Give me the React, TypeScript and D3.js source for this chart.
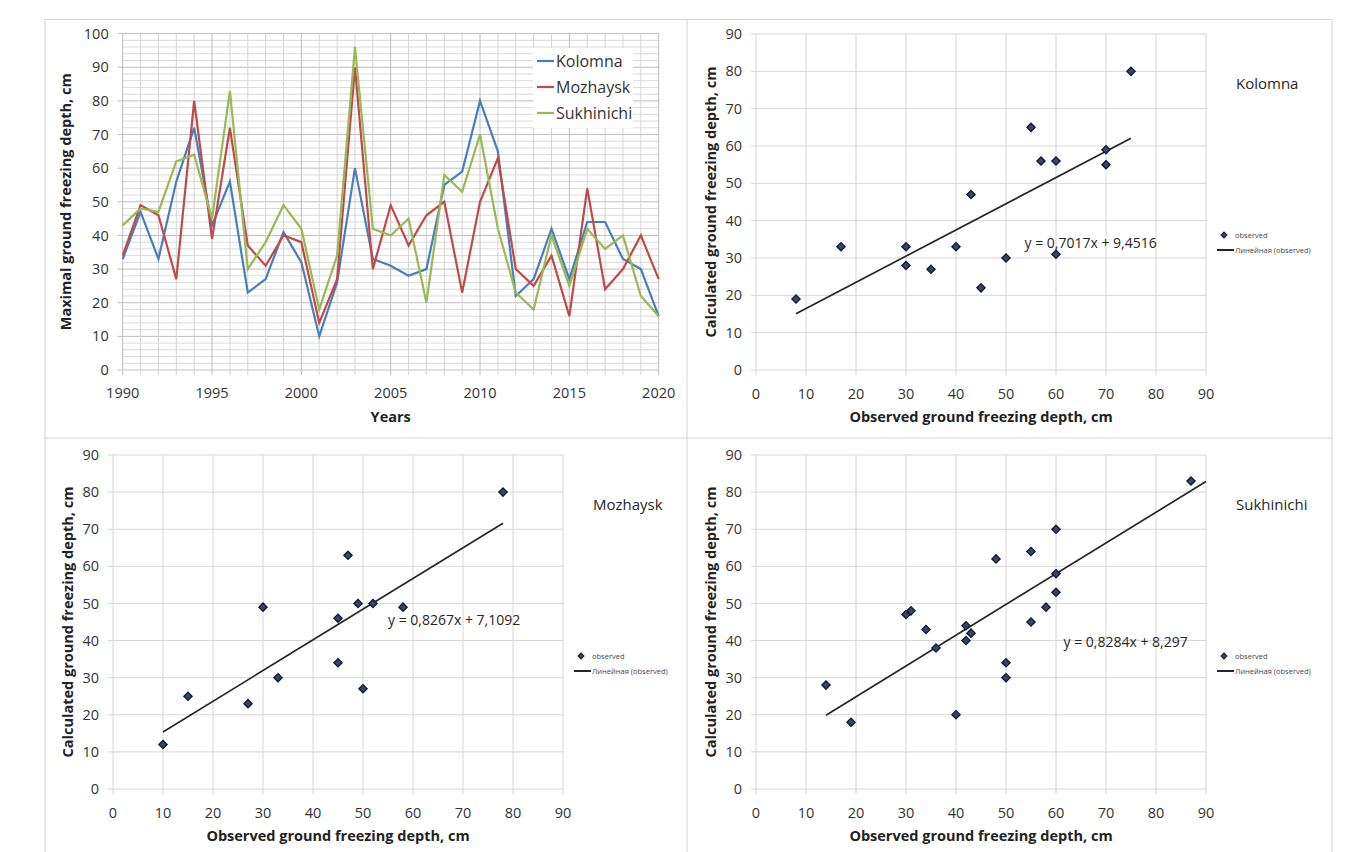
import * as d3 from "d3";

// Maximal ground freezing depth by year, cm
const years = [
  1990, 1991, 1992, 1993, 1994, 1995, 1996, 1997, 1998, 1999, 2000, 2001, 2002, 2003, 2004, 2005,
  2006, 2007, 2008, 2009, 2010, 2011, 2012, 2013, 2014, 2015, 2016, 2017, 2018, 2019, 2020,
];
const kolomna = [33, 47, 33, 56, 72, 43, 56, 23, 27, 41, 32, 10, 26, 60, 33, 31, 28, 30, 55, 59, 80, 65, 22, 27, 42, 27, 44, 44, 33, 30, 16];
const mozhaysk = [34, 49, 46, 27, 80, 39, 72, 37, 31, 40, 38, 14, 27, 90, 30, 49, 37, 46, 50, 23, 50, 63, 30, 25, 34, 16, 54, 24, 30, 40, 27];
const sukhinichi = [43, 48, 47, 62, 64, 45, 83, 30, 38, 49, 42, 18, 34, 96, 42, 40, 45, 20, 58, 53, 70, 42, 23, 18, 40, 25, 42, 36, 40, 22, 16];

const seriesNames = ["Kolomna", "Mozhaysk", "Sukhinichi"];
const seriesColors = ["#4a7ebb", "#be4b48", "#98b954"];

const yearTicks = [1990, 1995, 2000, 2005, 2010, 2015, 2020];
const depthTicks = [0, 10, 20, 30, 40, 50, 60, 70, 80, 90, 100];
const scatterTicks = [0, 10, 20, 30, 40, 50, 60, 70, 80, 90];

// observed vs calculated, cm
const kolomnaObs = [8, 17, 30, 30, 35, 40, 43, 45, 50, 55, 57, 60, 60, 70, 70, 75];
const kolomnaCalc = [19, 33, 33, 28, 27, 33, 47, 22, 30, 65, 56, 56, 31, 59, 55, 80];
const mozhayskObs = [10, 15, 27, 30, 33, 45, 45, 47, 49, 50, 52, 58, 78];
const mozhayskCalc = [12, 25, 23, 49, 30, 46, 34, 63, 50, 27, 50, 49, 80];
const sukhinichiObs = [14, 19, 30, 31, 34, 36, 40, 42, 42, 43, 48, 50, 50, 55, 55, 58, 60, 60, 60, 87];
const sukhinichiCalc = [28, 18, 47, 48, 43, 38, 20, 44, 40, 42, 62, 34, 30, 64, 45, 49, 70, 58, 53, 83];

// linear trendlines: [slope, intercept], [from x, to x]
const kolomnaFit = [0.7017, 9.4516];
const kolomnaFitRange = [8, 75];
const mozhayskFit = [0.8267, 7.1092];
const mozhayskFitRange = [10, 78];
const sukhinichiFit = [0.8284, 8.297];
const sukhinichiFitRange = [14, 90];

const FONT = "'Open Sans', 'DejaVu Sans', sans-serif";
const TXT = "#333";

function LineChart() {
  const left = 122.7, right = 658.7, top = 33.6, bottom = 370;
  const x = d3.scaleLinear().domain([1990, 2020]).range([left, right]);
  const y = d3.scaleLinear().domain([0, 100]).range([bottom, top]);
  const series = [kolomna, mozhaysk, sukhinichi];
  const line = d3
    .line<number>()
    .x((_, i) => x(years[i]))
    .y((d) => y(d));

  return (
    <g>
      {/* minor + major grid */}
      {d3.range(0, 101, 2).map((v) => (
        <line key={"h" + v} x1={left} x2={right} y1={y(v)} y2={y(v)}
          stroke={v % 10 === 0 ? "#bdbdbd" : "#dadada"} strokeWidth={1} />
      ))}
      {years.map((yr) => (
        <line key={"v" + yr} x1={x(yr)} x2={x(yr)} y1={top} y2={bottom + 5}
          stroke={yr % 5 === 0 ? "#bdbdbd" : "#d4d4d4"} strokeWidth={1} />
      ))}
      {depthTicks.map((v) => (
        <g key={"yt" + v}>
          <line x1={left - 5} x2={left} y1={y(v)} y2={y(v)} stroke="#bdbdbd" />
          <text x={left - 14} y={y(v)} dy="0.35em" textAnchor="end" fontSize={14.5} fill={TXT}>{v}</text>
        </g>
      ))}
      {yearTicks.map((yr) => (
        <text key={"xt" + yr} x={x(yr)} y={398} textAnchor="middle" fontSize={14.5} fill={TXT}>{yr}</text>
      ))}
      {series.map((s, i) => (
        <path key={seriesNames[i]} d={line(s) || ""} fill="none" stroke={seriesColors[i]}
          strokeWidth={2.2} strokeLinejoin="miter" />
      ))}
      {/* legend */}
      <rect x={533} y={48} width={100} height={80} fill="#fff" />
      {seriesNames.map((n, i) => (
        <g key={"lg" + n}>
          <line x1={537} x2={554} y1={61 + i * 26} y2={61 + i * 26} stroke={seriesColors[i]} strokeWidth={2.2} />
          <text x={556} y={61 + i * 26} dy="0.35em" fontSize={16} fill={TXT}>{n}</text>
        </g>
      ))}
      <text x={(left + right) / 2} y={422} textAnchor="middle" fontSize={14.5} fontWeight="bold" fill="#222">Years</text>
      <text transform={`translate(66,${(top + bottom) / 2}) rotate(-90)`} textAnchor="middle" dy="0.35em"
        fontSize={14.5} fontWeight="bold" fill="#222">Maximal ground freezing depth, cm</text>
    </g>
  );
}

type ScatterProps = {
  left: number; right: number; top: number; bottom: number;
  obs: number[]; calc: number[]; fit: number[]; fitRange: number[];
  name: string; eqPos: number[];
};

function Scatter({ left, right, top, bottom, obs, calc, fit, fitRange, name, eqPos }: ScatterProps) {
  const x = d3.scaleLinear().domain([0, 90]).range([left, right]);
  const y = d3.scaleLinear().domain([0, 90]).range([bottom, top]);
  const diamond = d3.symbol().type(d3.symbolSquare).size(34)() || "";
  const small = d3.symbol().type(d3.symbolSquare).size(18)() || "";
  const trend = d3
    .line<number>()
    .x((d) => x(d))
    .y((d) => y(fit[0] * d + fit[1]));
  const fmt = (v: number) => String(v).replace(".", ",");
  const eq = `y = ${fmt(fit[0])}x + ${fmt(fit[1])}`;

  return (
    <g>
      {scatterTicks.map((v) => (
        <g key={"g" + v}>
          <line x1={left - 5} x2={right} y1={y(v)} y2={y(v)} stroke="#d6d6d6" />
          <line x1={x(v)} x2={x(v)} y1={top} y2={bottom + 5} stroke="#d6d6d6" />
          <text x={left - 14} y={y(v)} dy="0.35em" textAnchor="end" fontSize={14.5} fill={TXT}>{v}</text>
          <text x={x(v)} y={bottom + 29} textAnchor="middle" fontSize={14.5} fill={TXT}>{v}</text>
        </g>
      ))}
      <path d={trend(fitRange) || ""} fill="none" stroke="#262626" strokeWidth={1.7} />
      {obs.map((o, i) => (
        <path key={"p" + i} d={diamond} transform={`translate(${x(o)},${y(calc[i])}) rotate(45)`}
          fill="#34466b" stroke="#0f1a2e" strokeWidth={1.3} />
      ))}
      <text x={x(eqPos[0])} y={y(eqPos[1])} dy="0.35em" fontSize={14} fill="#262626">{eq}</text>
      <text x={right + 30} y={top + 50} dy="0.35em" fontSize={15} fill="#262626">{name}</text>
      {/* legend */}
      <path d={small} transform={`translate(${right + 18},${top + 201}) rotate(45)`} fill="#34466b" stroke="#0f1a2e" />
      <text x={right + 29} y={top + 201} dy="0.35em" fontSize={7.5} fill="#444">observed</text>
      <line x1={right + 11} x2={right + 28} y1={top + 216} y2={top + 216} stroke="#262626" strokeWidth={2} />
      <text x={right + 29} y={top + 216} dy="0.35em" fontSize={7.5} fill="#444">Линейная (observed)</text>
      <text x={(left + right) / 2} y={bottom + 52} textAnchor="middle" fontSize={14.5} fontWeight="bold" fill="#222">
        Observed ground freezing depth, cm
      </text>
      <text transform={`translate(${left - 45},${(top + bottom) / 2}) rotate(-90)`} textAnchor="middle" dy="0.35em"
        fontSize={14.5} fontWeight="bold" fill="#222">Calculated ground freezing depth, cm</text>
    </g>
  );
}

export default function App() {
  return (
    <div style={{ position: "absolute", left: 0, top: 0, background: "#fff" }}>
      <svg width={1350} height={852} style={{ display: "block", fontFamily: FONT }}>
        <rect width={1350} height={852} fill="#fff" />
        <path d="M45,860V19.5H1332V860M687,19.5V860M45,438H1332" fill="none" stroke="#d4d4d4" />
        <LineChart />
        <Scatter left={756} right={1206} top={34} bottom={370} obs={kolomnaObs} calc={kolomnaCalc}
          fit={kolomnaFit} fitRange={kolomnaFitRange} name="Kolomna" eqPos={[53.7, 34]} />
        <Scatter left={113} right={563} top={455} bottom={789} obs={mozhayskObs} calc={mozhayskCalc}
          fit={mozhayskFit} fitRange={mozhayskFitRange} name="Mozhaysk" eqPos={[55, 45.5]} />
        <Scatter left={756} right={1206} top={455} bottom={789} obs={sukhinichiObs} calc={sukhinichiCalc}
          fit={sukhinichiFit} fitRange={sukhinichiFitRange} name="Sukhinichi" eqPos={[61.5, 39.6]} />
      </svg>
    </div>
  );
}
